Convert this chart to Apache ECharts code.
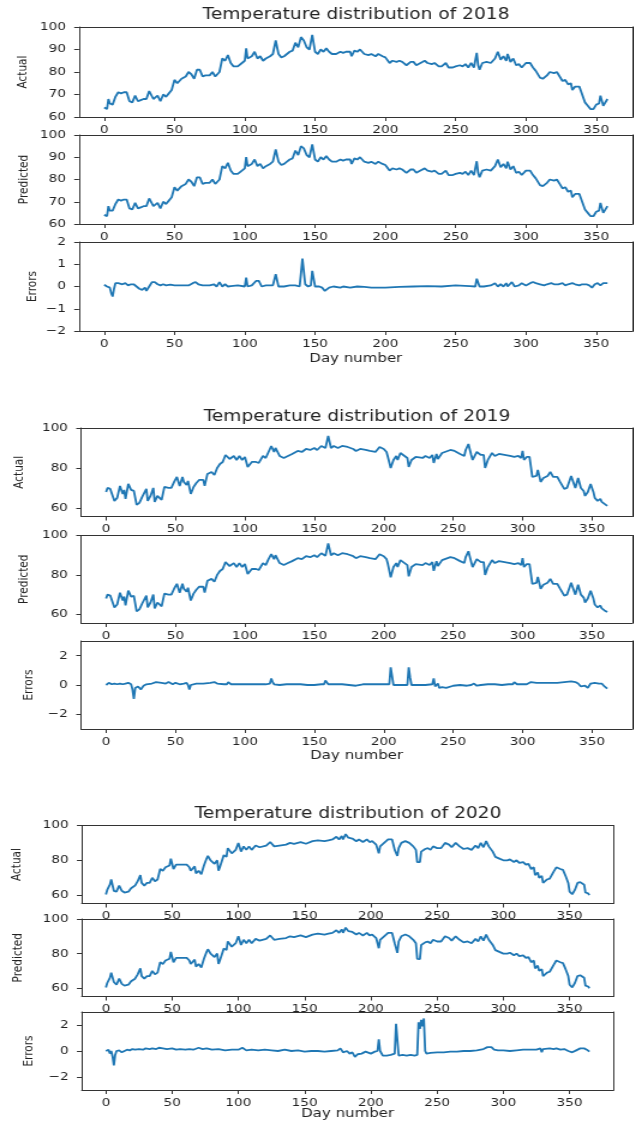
<!DOCTYPE html>
<html><head><meta charset="utf-8">
<script src="https://cdn.jsdelivr.net/npm/echarts@6/dist/echarts.min.js"></script>
<style>
html,body{margin:0;padding:0;background:#fff;overflow:hidden;width:634px;height:1124px}
#c{width:528.333px;height:1124px;transform:scaleX(1.2);transform-origin:0 0}
</style></head><body><div id="c"></div>
<script>
// ---------------- DATA ----------------
const titles = ['Temperature distribution of 2018','Temperature distribution of 2019','Temperature distribution of 2020'];
const panelNames = ['Actual','Predicted','Errors'];
const xLabel = 'Day number';
const ticksX = [0,50,100,150,200,250,300,350];
const ticksTemp2018 = [60,70,80,90,100];
const ticksErr2018 = [-2,-1,0,1,2];
const ticksTemp = [60,80,100];
const ticksErr = [-2,0,2];

const days2018 = [0,2,3,4,6,8,10,12,14,16,18,20,22,24,26,28,30,32,35,38,40,42,44,46,48,50,52,55,58,60,62,64,66,68,70,72,75,77,79,80,82,84,86,88,90,92,95,98,100,101,102,105,107,109,111,113,115,118,120,122,124,126,128,130,132,134,136,138,140,142,144,146,148,150,152,154,156,158,160,162,165,168,170,172,175,176,178,180,182,185,188,190,193,195,198,200,203,205,208,210,212,215,218,220,222,225,228,230,233,235,238,240,243,245,248,250,253,255,257,259,261,263,265,266,267,269,272,275,278,280,282,284,286,287,289,291,293,295,297,300,303,305,307,310,312,315,317,320,322,324,326,328,330,332,333,335,338,340,342,344,346,348,350,352,353,355,356,358];
const actual2018 = [64.2,63.5,68,66,65.5,69,71,70.5,71,71,67,66.5,69.5,67,67.5,68,68,71.5,68,69.5,67,70,69,70.5,72,76.5,75,77,78,80,79,77,81,81,78,78.5,78.5,80,78,77.5,80,86,85,87.5,84,82.5,82.5,84,85,90.5,86,87,89,86,87,85,86,87,88,94,88,86.5,87,88,89,89.5,93,91,95.5,94,91,90,96.5,89,88,90,89,90.5,89,88,88,89,88.5,89,89,87,89.5,89,90,88,87.5,88,87,88,87,86.5,84,85,84.5,85,84.5,83,84.5,84.5,83,84,85,84,83.5,84,82.5,82.5,84,82,82,82.5,83,82.5,83.5,82,84,82,88.5,83,81,84,84.5,84,86,89,85.5,87,85,88,84.5,86,83,83.5,82,84,84,82,80.5,77.5,77,78.5,80,79.5,80,78,76,76.5,74.5,75,72,73.5,73.5,70,66.5,65,63.5,63.5,65.5,66,69.5,65,64.5,68];
const predicted2018 = [64.1,63.5,68,66,66,69,71,70.5,71,71,67,66.5,69.5,67,67.5,68,68,71.5,68,69.5,67,70,69,70.5,72,76.5,75,77,78,80,79,77,81,81,78,78.5,78.5,80,78,77.5,80,86,85,87.5,84,82.5,82.5,84,85,90.1,86,87,89,86,87,85,86,87,88,93.5,88,86.5,87,88,89,89.5,93,91,95,94,91,90,95.8,89,88,90,89,90.5,89,88,88,89,88.5,89,89,87,89.5,89,90,88,87.5,88,87,88,87,86.5,84,85,84.5,85,84.5,83,84.5,84.5,83,84,85,84,83.5,84,82.5,82.5,84,82,82,82.5,83,82.5,83.5,82,84,82,88.2,83,81,84,84.5,84,86,89,85.5,87,85,88,84.5,86,83,83.5,82,84,84,82,80.5,77.5,77,78.5,80,79.5,80,78,76,76.5,74.5,75,72,73.5,73.5,70,66.5,65,63.5,63.5,65.5,66,69.5,65,64.5,68];
const errDays2018 = [0,2,4,5,6,7,8,10,13,15,17,19,21,23,25,27,29,30,32,34,36,38,40,42,44,47,50,55,60,63,65,67,70,75,78,80,82,84,86,88,90,95,100,101,102,105,108,110,112,115,120,122,124,128,132,136,139,140,141,143,145,147,148,150,153,155,157,158,160,163,168,170,175,180,185,190,200,210,220,230,240,250,260,264,265,267,270,275,278,280,282,284,286,287,290,292,295,297,300,303,305,307,310,313,315,318,320,323,326,328,330,333,335,338,340,343,345,347,349,351,353,355,358];
const errors2018 = [0.08,0,-0.05,-0.3,-0.45,-0.1,0.15,0.15,0.1,0.15,0.05,0.1,0.1,0,-0.1,-0.15,-0.05,-0.2,0,0.2,0.2,0.1,0.05,0.1,0.05,0.08,0.05,0.05,0.05,0.15,0.2,0.1,0.05,0.05,0.1,0,0.2,0,0.1,0,0.02,0.05,0,0.4,0,0.05,0.25,0.25,0,0.05,0.05,0.55,0,0,0.05,0.05,0,0.6,1.25,0.1,0,0.05,0.7,0,0,-0.05,-0.2,-0.25,-0.05,0,-0.05,0,-0.05,0,-0.02,-0.05,-0.05,-0.02,0,0.02,0,0.05,0.02,0,0.35,0,0,0.05,0.15,0,0.1,0,0.15,0,0.2,0,0.05,0.15,0.05,0.15,0.2,0.15,0.1,0.05,0.1,0.15,0.1,0.1,0.15,0.05,0.1,0.15,0.1,0.05,0.1,0.1,0.05,-0.05,0.1,0.15,0.05,0.15,0.15];

const days2019 = [0,1,3,6,8,10,12,13,14,16,18,20,22,24,26,27,29,30,32,34,35,37,40,42,45,47,49,51,53,55,56,58,59,61,63,65,67,70,71,73,76,78,80,82,84,86,89,92,94,96,98,100,102,105,108,110,113,115,117,119,121,122,125,128,131,134,138,141,144,147,150,152,155,158,160,162,164,167,170,174,178,180,183,187,190,194,197,200,202,203,205,207,209,210,212,215,217,218,220,223,228,230,233,235,236,238,239,242,244,248,251,255,258,259,261,263,264,267,270,272,273,275,278,280,283,287,291,294,297,299,300,301,303,305,307,310,311,313,315,318,320,322,325,327,330,332,334,335,337,338,340,342,344,345,347,349,351,352,354,356,357,359,361];
const actual2019 = [68,70,69.5,63.5,65,71,67,69,64.5,72,69,68.5,61.5,62.5,65.5,66,69.5,63.5,66,70,63,66,64,70.5,70,70,73,75.5,71,75.5,73,71.5,73.5,67,70.5,72.5,74,74,71,77,78,76.5,80,82,83,86.5,84.5,86,84,86,84,85.5,80.5,83,83,82.5,86,85,88,91,88,90,86,85,86,87,88.5,88,89.5,89,90,89,91,90,96,90,91,90,91,90.5,89.5,88.5,89.5,89,88.5,88,90.5,89.5,88,85.5,80,84,86,84,87.5,86,85,80.5,84,85.5,85,86,85,86.5,82.5,87,84.5,87.5,88,89,88.5,87,86,89,92,86.5,84,88,86.5,86.5,80,84,87.5,86,87,86.5,86,85.5,86,85,88.5,84,85.5,85.5,75.5,76,79,73,75,76,78,75.5,75.5,73,69.5,70,74,76,72,70,75,70,68.5,66,68,72,68,65,63.5,64.5,63,62,61];
const predicted2019 = [68,70,69.5,63.5,65,71,67,69,64.5,72,69,69.4,61.5,62.5,65.5,66,69.5,63.5,66,70,63,66,64,70.5,70,70,73,75.5,71,75.5,73,71.5,73.5,67,70.5,72.5,74,74,71,77,78,76.5,80,82,83,86.5,84.5,86,84,86,84,85.5,80.5,83,83,82.5,86,85,88,90.6,88,90,86,85,86,87,88.5,88,89.5,89,90,89,91,89.7,96,90,91,90,91,90.5,89.5,88.5,89.5,89,88.5,88,90.5,89.5,88,85.5,78.8,84,86,84,87.5,86,85,79.3,84,85.5,85,86,85,86.5,82.1,87,84.5,87.5,88,89,88.5,87,86,89,92,86.5,84,88,86.5,86.5,80,84,87.5,86,87,86.5,86,85.5,86,85,88.5,84,85.5,85.5,75.5,76,79,73,75,76,78,75.5,75.5,73,69.5,70,74,76,72,70,75,70,68.5,66,68,72,68,65,63.5,64.5,63,62,61.2];
const errDays2019 = [0,1,2,4,6,8,10,12,14,16,18,19,20,21,23,25,27,29,30,33,36,40,43,45,48,50,53,56,58,59,60,61,62,65,70,75,78,80,85,87,88,90,95,100,105,110,115,118,119,120,121,125,130,135,140,145,150,155,157,158,160,165,170,175,180,185,190,195,200,204,205,206,207,210,215,217,218,219,220,225,230,235,236,237,239,240,242,245,250,255,260,263,265,267,270,275,280,285,290,293,294,296,300,303,306,310,315,320,325,330,335,338,340,342,343,345,347,349,352,355,357,359,361];
const errors2019 = [0,0.1,0.15,0.05,0.1,0.05,0.1,0.05,0.1,0.15,0.05,-0.3,-0.95,-0.2,-0.1,-0.3,-0.05,0.05,0.15,0.1,0.2,0.15,0.1,0.2,0.05,0.15,0.05,0.1,0.15,0,-0.3,0,0.05,0.1,0.1,0.15,0.2,0.1,0.05,0.05,0.2,0.05,0.05,0.05,0.05,0.05,0.05,0.1,0.45,0.2,0.05,0,0.05,0.05,0.05,0,0,0.05,0.05,0.3,0.05,0.05,0.05,0,-0.05,0.05,0.05,0.05,0.05,0.05,1.2,0.6,0,0,0,0,1.2,0.5,0,0,0,0.05,0.45,-0.1,0.1,-0.2,-0.15,-0.2,-0.05,0,-0.05,0,0.1,-0.05,0,0.05,0.05,0,0.05,0.05,0.2,0.05,0.05,0.05,0.2,0.15,0.15,0.15,0.15,0.2,0.25,0.2,0.1,-0.1,-0.2,-0.05,-0.2,0.1,0.15,0.1,0.1,-0.1,-0.25];

const days2020 = [0,1,3,4,6,8,10,12,14,17,19,22,24,26,27,29,31,33,35,37,39,41,43,45,48,49,51,53,55,58,61,63,64,67,68,70,72,74,76,77,79,80,82,84,85,86,89,91,92,95,98,100,102,104,106,108,110,113,116,121,124,127,131,136,139,142,147,151,156,160,165,168,171,174,176,178,179,181,183,186,189,191,194,197,199,201,204,206,207,210,213,216,218,220,221,223,226,229,232,234,235,237,238,241,243,245,247,250,253,256,259,261,264,267,270,273,276,279,281,283,285,287,289,292,294,297,300,303,305,308,310,312,315,317,319,321,323,324,326,327,329,330,333,335,338,340,343,345,347,349,350,352,354,356,358,359,361,362,364,365];
const actual2020 = [60.4,63,66,69,62.5,62,65.5,62.5,61.5,62,64,65.5,68,71.5,67,65.5,67,67,70,68,69,75,74,76,77,81,75,77.5,77.5,77.5,77.5,76,74,76.5,72.5,74,72,77,81,82.5,80,80.5,78,80,74,76,83,82,87,84,86,90,85,88,86,88,86,88.5,87.5,88.5,90.5,88,88.5,89,90,89.5,90.5,89.5,91,91.5,91,91.5,92,93.5,92,94,92,95,93,92.5,91,92,90.5,92,90.5,91,89,84,88,90,92,92,86,82.5,87,90,91,90,88,86,79,79,85,86.5,87,86,88,87,87,90,89,87.5,90,88,86.5,87,86,88.5,87,90,87.5,91,88,85,82,81,80,80,80.5,79,80,78.5,79,77.5,78,75,76,71.5,73,70,71,67,69,69.5,73.5,76,75,74.5,71,67,62,60.5,63,67,67.5,67,66,61.5,61,60];
const predicted2020 = [60.4,63,66,69,63.6,62,65.5,62.5,61.5,62,64,65.5,68,71.5,67,65.5,67,67,70,68,69,75,74,76,77,81,75,77.5,77.5,77.5,77.5,76,74,76.5,72.5,74,72,77,81,82.5,80,80.5,78,80,74,76,83,82,87,84,86,90,85,88,86,88,86,88.5,87.5,88.5,90.5,88,88.5,89,90,89.5,90.5,89.5,91,91.5,91,91.5,92,93.5,92,94,92,95,93,92.5,91,92,90.5,92,90.5,91,89,83.1,88,90,92,92,86,80.4,87,90,91,90,88,86,77,76.8,85,86.5,87,86,88,87,87,90,89,87.5,90,88,86.5,87,86,88.5,87,90,87.5,91,88,85,82,81,80,80,80.5,79,80,78.5,79,77.5,78,75,76,71.5,73,70,71,67,69,69.5,73.5,76,75,74.5,71,67,62,60.5,63,67,67.5,67,66,61.5,61,60];
const errDays2020 = [0,1,2,3,4,5,6,7,8,10,12,14,16,18,20,22,25,28,30,33,35,38,40,43,46,50,53,56,60,63,66,70,73,76,80,85,90,95,100,103,106,110,115,120,125,130,135,140,145,150,155,160,165,170,175,177,179,182,184,186,188,190,193,196,200,203,205,206,207,209,212,215,218,219,220,221,224,227,230,233,235,236,237,238,239,240,241,242,245,250,255,260,265,270,275,280,285,288,291,293,296,300,305,310,315,320,325,328,329,330,335,338,340,343,346,349,352,355,358,361,363,365];
const errors2020 = [0,-0.1,0.1,-0.2,0,-0.4,-1.1,-0.3,0,0.05,-0.1,0,0.1,0.05,0.15,0.1,0.15,0.1,0.2,0.15,0.2,0.15,0.25,0.2,0.15,0.2,0.1,0.15,0.1,0.15,0.1,0.25,0.15,0.2,0.1,0.15,0.05,0.1,0.1,0.25,0.05,0.1,0.05,0.1,0.05,0,0.1,0,0.05,-0.05,0,0,-0.05,0,0.05,0.2,-0.1,0,-0.2,-0.1,-0.45,-0.25,-0.2,-0.05,-0.2,-0.05,0,0.9,0,-0.35,-0.35,-0.3,-0.2,2.1,2,-0.35,-0.3,-0.35,-0.3,-0.35,-0.3,2.2,1.7,2.4,1.9,2.5,0,-0.2,-0.15,-0.1,-0.1,-0.05,-0.05,0,0,0.05,0.15,0.3,0.3,0.1,0.05,0.05,0,0.05,0.1,0.1,0.1,0.2,-0.1,0.15,0.2,0.15,0.2,0.1,0.15,0,-0.1,0.05,0.2,0.2,0.1,-0.05];

// ---------------- LAYOUT (outer page pixels) ----------------
const S = 1.2;                 // horizontal stretch of the page
const PAGE_W = 634;
const X = px => px / S;
const FONT = 'DejaVu Sans';
const BLUE = '#1f77b4';
const TXT = '#222';
const FRAME = '#333';

const zip = (xs, ys) => xs.map((x, i) => [x, ys[i]]);

const years = [
  { left:79, right:633, xMin:-17.9, xMax:375.9, titleX:356, titleY:16, dayGap:21,
    series:[zip(days2018, actual2018), zip(days2018, predicted2018), zip(errDays2018, errors2018)],
    panels:[
      {top:27, h:90, yMin:60, yMax:100, ticks:ticksTemp2018, gap:41},
      {top:135, h:89, yMin:60, yMax:100, ticks:ticksTemp2018, gap:40},
      {top:242, h:89, yMin:-2, yMax:2, ticks:ticksErr2018, gap:33}]},
  { left:81, right:632.7, xMin:-18.05, xMax:379.05, titleX:357, titleY:418, dayGap:20,
    series:[zip(days2019, actual2019), zip(days2019, predicted2019), zip(errDays2019, errors2019)],
    panels:[
      {top:428, h:88.5, yMin:55.7, yMax:100, ticks:ticksTemp, gap:46},
      {top:535.5, h:87.5, yMin:55.6, yMax:100, ticks:ticksTemp, gap:42},
      {top:641, h:88, yMin:-3, yMax:3, ticks:ticksErr, gap:38}]},
  { left:81.7, right:614, xMin:-18.25, xMax:383.25, titleX:348, titleY:815, dayGap:17,
    series:[zip(days2020, actual2020), zip(days2020, predicted2020), zip(errDays2020, errors2020)],
    panels:[
      {top:825.5, h:78, yMin:55.2, yMax:100, ticks:ticksTemp, gap:48},
      {top:919, h:77.5, yMin:55.2, yMax:100, ticks:ticksTemp, gap:47},
      {top:1012, h:78, yMin:-3, yMax:3, ticks:ticksErr, gap:38}]}
];

const fmt = v => (v < 0 ? '\u2212' + (-v) : String(v));
const frameLine = {show:true, onZero:false, lineStyle:{color:FRAME, width:1}};

const option = { animation:false, title:[], grid:[], xAxis:[], yAxis:[], series:[] };

years.forEach((yr, yi) => {
  option.title.push({
    text: titles[yi], left: X(yr.titleX), top: yr.titleY - 9, textAlign:'center', padding:0,
    textStyle:{ fontFamily:FONT, fontSize:15.5, fontWeight:'normal', color:TXT }
  });
  yr.panels.forEach((p, pi) => {
    const gi = option.grid.length;
    option.grid.push({
      left: X(yr.left), right: (PAGE_W - yr.right) / S, top: p.top, height: p.h,
      show:false, containLabel:false
    });
    const xi = option.xAxis.length, yiIdx = option.yAxis.length;
    option.xAxis.push({
      gridIndex:gi, type:'value', position:'bottom', min:yr.xMin, max:yr.xMax,
      axisLine:frameLine, splitLine:{show:false},
      axisTick:{show:true, customValues:ticksX, length:4, lineStyle:{color:FRAME}},
      axisLabel:{customValues:ticksX, margin:7.5, fontFamily:FONT, fontSize:11.3, color:TXT, formatter:fmt},
      name: pi === 2 ? xLabel : '', nameLocation:'middle', nameGap: yr.dayGap, nameMoveOverlap:false,
      nameTextStyle:{fontFamily:FONT, fontSize:12.5, color:TXT}
    });
    option.xAxis.push({
      gridIndex:gi, type:'value', position:'top', min:yr.xMin, max:yr.xMax,
      axisLine:frameLine, axisTick:{show:false}, axisLabel:{show:false}, splitLine:{show:false}
    });
    option.yAxis.push({
      gridIndex:gi, type:'value', position:'left', min:p.yMin, max:p.yMax,
      axisLine:frameLine, splitLine:{show:false},
      axisTick:{show:true, customValues:p.ticks, length:4, lineStyle:{color:FRAME}},
      axisLabel:{customValues:p.ticks, margin:11, fontFamily:FONT, fontSize:11.3, color:TXT, formatter:fmt},
      name: panelNames[pi], nameLocation:'middle', nameRotate:90, nameGap:p.gap, nameMoveOverlap:false,
      nameTextStyle:{fontFamily:FONT, fontSize:10.5, color:TXT}
    });
    option.yAxis.push({
      gridIndex:gi, type:'value', position:'right', min:p.yMin, max:p.yMax,
      axisLine:frameLine, axisTick:{show:false}, axisLabel:{show:false}, splitLine:{show:false}
    });
    option.series.push({
      type:'line', xAxisIndex:xi, yAxisIndex:yiIdx, data: yr.series[pi],
      showSymbol:false, symbol:'none', silent:true,
      lineStyle:{color:BLUE, width:1.8}, itemStyle:{color:BLUE}
    });
  });
});

const chart = echarts.init(document.getElementById('c'), null, {renderer:'canvas'});
chart.setOption(option);
</script>
</body></html>
